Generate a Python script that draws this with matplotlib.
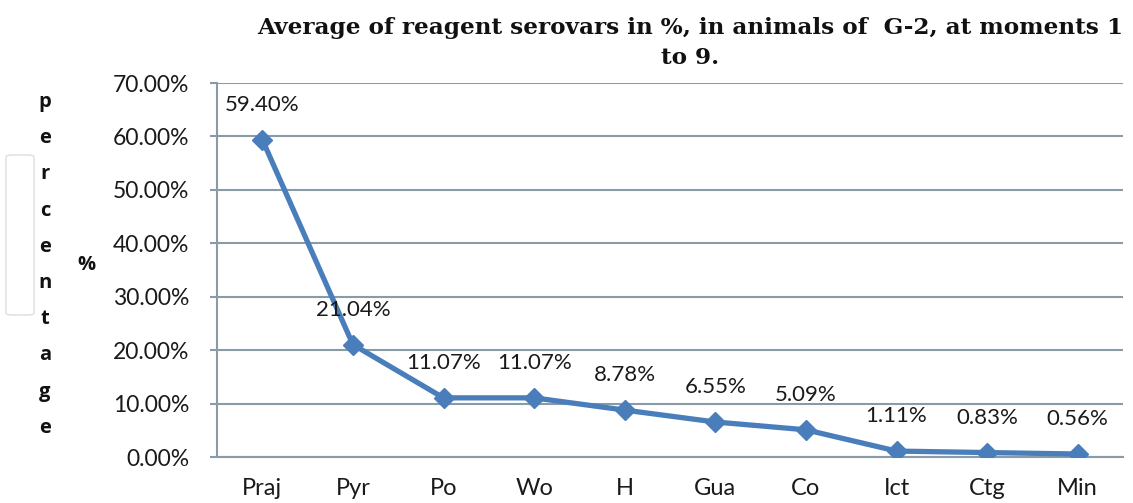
import matplotlib
matplotlib.use("Agg")
import matplotlib.pyplot as plt
from matplotlib.patches import FancyBboxPatch

categories = ["Praj", "Pyr", "Po", "Wo", "H", "Gua", "Co", "Ict", "Ctg", "Min"]
values = [59.40, 21.04, 11.07, 11.07, 8.78, 6.55, 5.09, 1.11, 0.83, 0.56]
yticks = [0, 10, 20, 30, 40, 50, 60, 70]
title_line1 = "Average of reagent serovars in %, in animals of  G-2, at moments 1"
title_line2 = "to 9."

W, H = 1133, 503
fig = plt.figure(figsize=(W / 100, H / 100), dpi=100)
ax = fig.add_axes([217 / W, (H - 457) / H, (1123 - 217) / W, (457 - 83) / H])

line_color = "#4a7ebb"
grid_color = "#8a9ba8"
font = "Lato"

x = list(range(len(categories)))
ax.plot(x, values, color=line_color, lw=3.8, marker="D", markersize=10.5,
        markerfacecolor=line_color, markeredgecolor=line_color, zorder=3,
        solid_joinstyle="round")

for xi, v in zip(x, values):
    ax.annotate(f"{v:.2f}%", (xi, v), xytext=(0, 25), textcoords="offset points",
                ha="center", va="center", fontsize=16, family=font, color="#1a1a1a")

ax.set_xlim(-0.5, len(categories) - 0.5)
ax.set_ylim(0, 70)
ax.set_yticks(yticks)
ax.set_yticklabels([f"{t:.2f}%" for t in yticks], fontsize=16.5, family=font, color="#1a1a1a")
ax.set_xticks(x)
ax.set_xticklabels(categories, fontsize=17, family=font, color="#1a1a1a")
ax.tick_params(axis="x", length=0, pad=15)
ax.tick_params(axis="y", length=5, color=grid_color, width=1.5, pad=15)
ax.grid(axis="y", color=grid_color, lw=1.5)
ax.set_axisbelow(True)
for s in ["top", "right"]:
    ax.spines[s].set_visible(False)
ax.spines["left"].set_color(grid_color)
ax.spines["left"].set_linewidth(1.5)
ax.spines["bottom"].set_color(grid_color)
ax.spines["bottom"].set_linewidth(1.5)

fig.text(690 / W, 1 - 28 / H, title_line1, ha="center", va="center", fontsize=16.7,
         family="DejaVu Serif", weight="bold", color="#111111")
fig.text(690 / W, 1 - 58 / H, title_line2, ha="center", va="center", fontsize=16.7,
         family="DejaVu Serif", weight="bold", color="#111111")

letters = "percentage"
for i, ch in enumerate(letters):
    fig.text(45 / W, 1 - (102 + i * 36.2) / H, ch, ha="center", va="center",
             fontsize=14.5, family="Open Sans", weight="bold", color="#111111")
fig.text(86 / W, 1 - 265 / H, "%", ha="center", va="center",
         fontsize=14.5, family="Open Sans", weight="bold", color="#111111")

box = FancyBboxPatch((6 / W, (H - 315) / H), 28 / W, 160 / H,
                     boxstyle="round,pad=0,rounding_size=0.005",
                     transform=fig.transFigure, fill=False, edgecolor="#e3e3e3", lw=1.2)
fig.patches.append(box)

fig.savefig("out.png", dpi=100)
